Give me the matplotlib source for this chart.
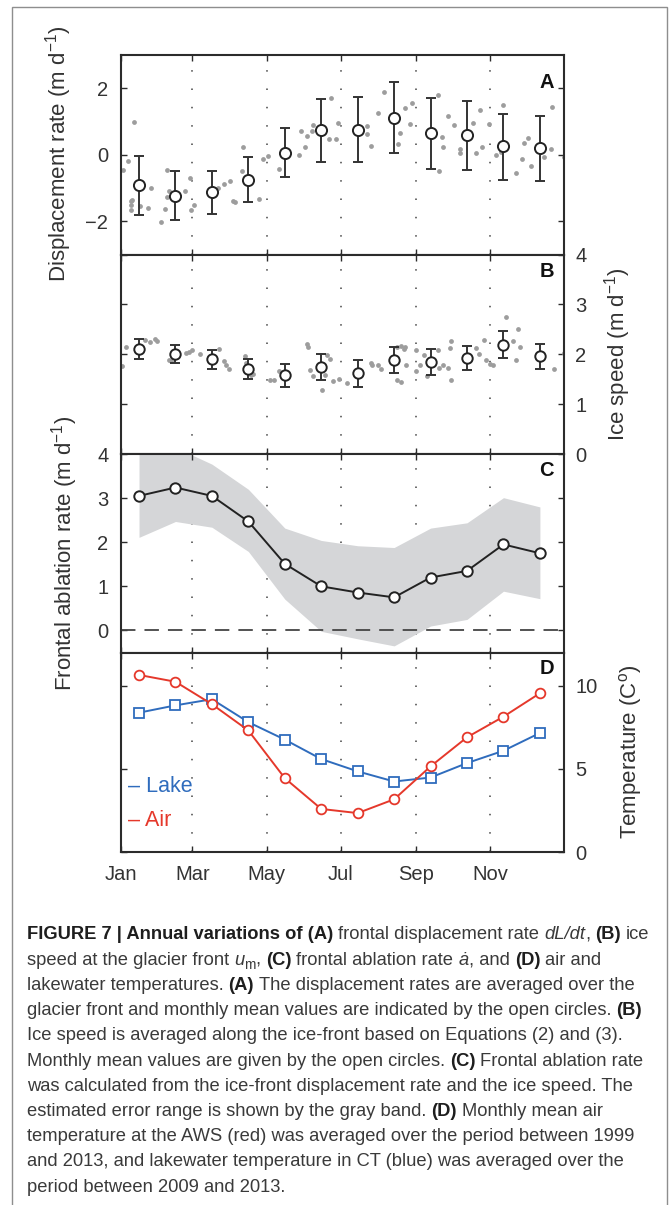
import matplotlib
matplotlib.use('Agg')
import matplotlib.pyplot as plt
from matplotlib.patches import Rectangle
from matplotlib.transforms import IdentityTransform

# ---------------- data ----------------
month_days = [15, 45, 75, 105, 135, 165, 195, 225, 255, 285, 315, 345]
tick_days = [0, 59, 120, 181, 243, 304]
tick_labels = ['Jan', 'Mar', 'May', 'Jul', 'Sep', 'Nov']

# (A) displacement rate
dotsA_day = [2, 6, 11, 8, 8, 8, 9, 16, 22, 25, 33, 36, 38, 38, 40, 53, 57, 58, 60, 80,
             85, 90, 92, 94, 100, 101, 114, 117, 121, 130, 147, 148, 152, 153, 157, 158, 171, 173, 177, 179,
             203, 203, 206, 212, 217, 228, 230, 234, 238, 240, 261, 262, 264, 265, 269, 274, 279, 279, 290, 292,
             296, 297, 303, 309, 313, 315, 325, 330, 332, 335, 338, 348, 354, 355, 365]
dotsA_val = [-0.45, -0.2, 0.99, -1.4, -1.52, -1.67, -1.35, -1.55, -1.61, -1.0,
             -2.02, -1.62, -0.45, -1.28, -1.1, -1.1, -0.7, -1.65, -1.52, -1.0,
             -0.87, -0.8, -1.4, -1.42, -0.48, 0.22, -1.32, -0.13, -0.05, -0.43,
             -0.02, 0.7, 0.24, 0.56, 0.72, 0.9, 0.46, 1.7, 0.48, 0.95,
             0.85, 0.62, 0.26, 1.26, 1.9, 0.31, 0.65, 1.4, 0.92, 1.55,
             1.79, -0.5, 0.52, 0.23, 1.16, 0.9, 0.18, 0.04, 0.96, 0.05,
             1.34, 0.24, 0.91, 0.0, 0.09, 1.49, -0.54, -0.13, 0.34, 0.5,
             -0.34, -0.07, 0.16, 1.43, -0.08]
meanA = [-0.92, -1.23, -1.13, -0.77, 0.05, 0.74, 0.75, 1.12, 0.65, 0.58, 0.25, 0.21]
upperA = [-0.04, -0.50, -0.48, -0.08, 0.79, 1.67, 1.73, 2.18, 1.71, 1.61, 1.24, 1.18]
lowerA = [-1.80, -1.96, -1.79, -1.41, -0.67, -0.21, -0.22, 0.06, -0.42, -0.45, -0.75, -0.78]

# (B) ice speed
dotsB_day = [1, 4, 20, 24, 28, 30, 40, 41, 54, 56, 59, 65, 81, 85, 87, 89, 102, 103, 107, 109, 123,
             126, 130, 153, 154, 156, 158, 168, 170, 172, 166, 175, 180, 186, 206, 207, 212, 214, 227, 231,
             227, 231, 233, 234, 235, 243, 243, 246, 252, 250, 261, 262,
             265, 269, 272, 272, 271, 292, 295, 299, 301, 304, 306, 317, 323, 327, 325, 329, 357, 365]
dotsB_val = [1.76, 2.15, 2.28, 2.25, 2.31, 2.27, 1.88, 1.87, 2.03, 2.05, 2.09, 2.01, 2.1, 1.87, 1.79, 1.71,
             1.96, 1.83, 1.58, 1.6, 1.48,
             1.48, 1.66, 2.2, 2.15, 1.69, 1.56, 1.58, 1.98, 1.91, 1.29, 1.46, 1.51, 1.43, 1.83, 1.78, 1.78,
             1.7, 1.49, 1.45, 2.15, 2.16, 2.11, 2.15, 1.78, 2.09, 1.66, 1.79, 1.56, 1.99, 2.09, 1.73,
             1.78, 1.73, 1.48, 2.26, 2.13, 2.13, 2.0, 2.28, 1.88, 1.8, 1.78, 2.75, 2.26, 2.51, 1.88, 2.15,
             1.71, 2.03]
meanB = [2.11, 2.01, 1.90, 1.71, 1.58, 1.75, 1.63, 1.89, 1.85, 1.93, 2.19, 1.96]
upperB = [2.31, 2.19, 2.08, 1.91, 1.80, 2.00, 1.88, 2.15, 2.10, 2.16, 2.46, 2.21]
lowerB = [1.91, 1.83, 1.71, 1.50, 1.35, 1.48, 1.35, 1.63, 1.59, 1.68, 1.93, 1.70]

# (C) frontal ablation rate
meanC = [3.05, 3.24, 3.05, 2.47, 1.51, 1.00, 0.86, 0.75, 1.20, 1.35, 1.95, 1.75]
upC = [4.10, 4.15, 3.77, 3.20, 2.32, 2.04, 1.92, 1.88, 2.32, 2.44, 3.01, 2.80]
lowC = [2.11, 2.47, 2.34, 1.79, 0.71, -0.02, -0.19, -0.35, 0.10, 0.25, 0.89, 0.72]

# (D) temperatures
air = [10.65, 10.24, 8.89, 7.31, 4.44, 2.59, 2.34, 3.17, 5.15, 6.90, 8.14, 9.55]
lake = [8.38, 8.82, 9.19, 7.81, 6.76, 5.59, 4.85, 4.24, 4.48, 5.35, 6.09, 7.16]

# ---------------- style ----------------
plt.rcParams['font.family'] = ['Liberation Sans', 'DejaVu Sans']
plt.rcParams['mathtext.fontset'] = 'custom'
plt.rcParams['mathtext.rm'] = 'Liberation Sans'
plt.rcParams['mathtext.it'] = 'Liberation Sans:italic'
plt.rcParams['mathtext.bf'] = 'Liberation Sans:bold'

W, H = 670, 1205
fig = plt.figure(figsize=(W / 100, H / 100), dpi=100)
fig.patch.set_facecolor('white')

INK = '#2b2b2b'
DOT = '#9d9d9d'
RED = '#e5382b'
BLUE = '#2f6cbd'


def fx(X):
    return X / W


def fy(Y):
    return 1 - Y / H


XL, XR = 120.8, 564.2


def panel(top, bottom):
    ax = fig.add_axes([fx(XL), fy(bottom), fx(XR) - fx(XL), fy(top) - fy(bottom)])
    ax.set_xlim(0, 365)
    ax.set_xticks(tick_days)
    ax.set_xticklabels(tick_labels)
    for d in tick_days[1:]:
        ax.axvline(d, color='#444444', lw=1.1, ls=(0, (1, 11)), zorder=0)
    ax.tick_params(direction='in', top=True, bottom=True, left=True, right=True,
                   length=4, width=1.0, color=INK, labelsize=14.5, labelcolor='#333333')
    ax.tick_params(axis='x', labelbottom=False)
    ax.tick_params(axis='y', pad=9)
    for s in ax.spines.values():
        s.set_linewidth(1.5)
        s.set_color(INK)
    return ax


def panel_letter(ax, letter, Y):
    fig.text(fx(554), fy(Y), letter, ha='right', va='center', fontsize=14.5,
             fontweight='bold', color='#111111')


# Panel A
axA = panel(55, 254.5)
axA.set_ylim(-3, 3)
axA.set_yticks([-2, 0, 2])
axA.scatter(dotsA_day, dotsA_val, s=12, color=DOT, lw=0, zorder=2)
errA = [[m - l for m, l in zip(meanA, lowerA)], [u - m for u, m in zip(upperA, meanA)]]
axA.errorbar(month_days, meanA, yerr=errA, fmt='o', ms=8, mfc='white', mec='#222222',
             mew=1.4, ecolor='#333333', elinewidth=1.4, capsize=3.5, capthick=1.4, zorder=3)
panel_letter(axA, 'A', 83)

# Panel B
axB = panel(254.5, 454)
axB.set_ylim(0, 4)
axB.set_yticks([0, 1, 2, 3, 4])
axB.tick_params(axis='y', labelleft=False, labelright=True, pad=8)
axB.scatter(dotsB_day, dotsB_val, s=12, color=DOT, lw=0, zorder=2)
errB = [[m - l for m, l in zip(meanB, lowerB)], [u - m for u, m in zip(upperB, meanB)]]
axB.errorbar(month_days, meanB, yerr=errB, fmt='o', ms=7.5, mfc='white', mec='#222222',
             mew=1.4, ecolor='#333333', elinewidth=1.4, capsize=3.5, capthick=1.4, zorder=3)
panel_letter(axB, 'B', 271.5)

# Panel C
axC = panel(454, 652.5)
axC.set_ylim(-0.5, 4)
axC.set_yticks([0, 1, 2, 3, 4])
axC.fill_between(month_days, lowC, upC, color='#d5d6d8', lw=0, zorder=1)
axC.axhline(0, color='#444444', lw=1.3, ls=(0, (8, 5)), zorder=2)
axC.plot(month_days, meanC, '-o', color='#222222', lw=1.4, ms=7.5, mfc='white',
         mec='#222222', mew=1.4, zorder=3)
panel_letter(axC, 'C', 471)

# Panel D
axD = panel(652.5, 852)
axD.set_ylim(0, 12)
axD.set_yticks([0, 5, 10])
axD.tick_params(axis='y', labelleft=False, labelright=True, pad=8)
axD.tick_params(axis='x', labelbottom=True, pad=9)
axD.plot(month_days, lake, '-s', color=BLUE, lw=1.4, ms=6.5, mfc='white', mec=BLUE, mew=1.3, zorder=3)
axD.plot(month_days, air, '-o', color=RED, lw=1.4, ms=7, mfc='white', mec=RED, mew=1.3, zorder=4)
axD.text(0.017, 0.33, '– Lake', transform=axD.transAxes, color=BLUE, fontsize=15.5, va='center')
axD.text(0.017, 0.16, '– Air', transform=axD.transAxes, color=RED, fontsize=15.5, va='center')
panel_letter(axD, 'D', 668)

# axis labels
fig.text(fx(59), fy(154), r'Displacement rate (m d$^{-1}$)', rotation=90, ha='center',
         va='center', fontsize=16, color='#333333')
fig.text(fx(65), fy(553), r'Frontal ablation rate (m d$^{-1}$)', rotation=90, ha='center',
         va='center', fontsize=16, color='#333333')
fig.text(fx(618), fy(354), r'Ice speed (m d$^{-1}$)', rotation=90, ha='center',
         va='center', fontsize=16, color='#333333')
fig.text(fx(631), fy(752), r'Temperature (C$^{\mathrm{o}}$)', rotation=90, ha='center',
         va='center', fontsize=16, color='#333333')

# outer frame
fig.patches.append(Rectangle((fx(12), -0.01), fx(667) - fx(12), fy(7) + 0.01,
                             transform=fig.transFigure, fill=False, ec='#8e8e8e', lw=1.0))

# ---------------- caption ----------------
caption = [
    [("FIGURE 7 | Annual variations of (A)", 'b', False), ("frontal displacement rate", 'r', True),
     ("dL/dt", 'i', True), (",", 'r', False), ("(B)", 'b', True), ("ice", 'r', True)],
    [("speed at the glacier front", 'r', False), ("u", 'i', True), ("m", 'sub', False), (",", 'r', False),
     ("(C)", 'b', True), ("frontal ablation rate", 'r', True), ("ȧ", 'i', True), (", and", 'r', False),
     ("(D)", 'b', True), ("air and", 'r', True)],
    [("lakewater temperatures.", 'r', False), ("(A)", 'b', True),
     ("The displacement rates are averaged over the", 'r', True)],
    [("glacier front and monthly mean values are indicated by the open circles.", 'r', False),
     ("(B)", 'b', True)],
    [("Ice speed is averaged along the ice-front based on Equations (2) and (3).", 'r', False)],
    [("Monthly mean values are given by the open circles.", 'r', False), ("(C)", 'b', True),
     ("Frontal ablation rate", 'r', True)],
    [("was calculated from the ice-front displacement rate and the ice speed. The", 'r', False)],
    [("estimated error range is shown by the gray band.", 'r', False), ("(D)", 'b', True),
     ("Monthly mean air", 'r', True)],
    [("temperature at the AWS (red) was averaged over the period between 1999", 'r', False)],
    [("and 2013, and lakewater temperature in CT (blue) was averaged over the", 'r', False)],
    [("period between 2009 and 2013.", 'r', False)],
]

renderer = fig.canvas.get_renderer()
TI = IdentityTransform()


def seg_kw(style, size):
    kw = dict(fontsize=size, color='#3a3a3a', family=['Liberation Sans', 'DejaVu Sans'])
    if style == 'b':
        kw.update(fontweight='bold', color='#1e1e1e')
    elif style == 'i':
        kw.update(fontstyle='italic')
    elif style == 'sub':
        kw.update(fontsize=size * 0.75)
    return kw


def width_of(s, style, size):
    t = fig.text(0, 0, s, transform=TI, **seg_kw(style, size))
    w = t.get_window_extent(renderer).width
    t.remove()
    return w


def space_w(style, size):
    return width_of('a a', style, size) - width_of('aa', style, size)


def draw_line(segs, x0, base_Y, size, draw=True):
    x = x0
    for text, style, sp in segs:
        if sp:
            x += space_w('r', size)
        yb = H - base_Y
        if style == 'sub':
            yb -= size * 0.35
        t = fig.text(x, yb, text, transform=TI, va='baseline', ha='left', **seg_kw(style, size))
        w = t.get_window_extent(renderer).width
        if not draw:
            t.remove()
        x += w
    return x


base = 12.0
wline = draw_line(caption[0], 0, -100, base, draw=False)
size = base * (648 - 26.6) / wline
for i, segs in enumerate(caption):
    draw_line(segs, 26.6, 939.3 + 25.24 * i, size)

fig.savefig('out.png', dpi=100, facecolor='white')
